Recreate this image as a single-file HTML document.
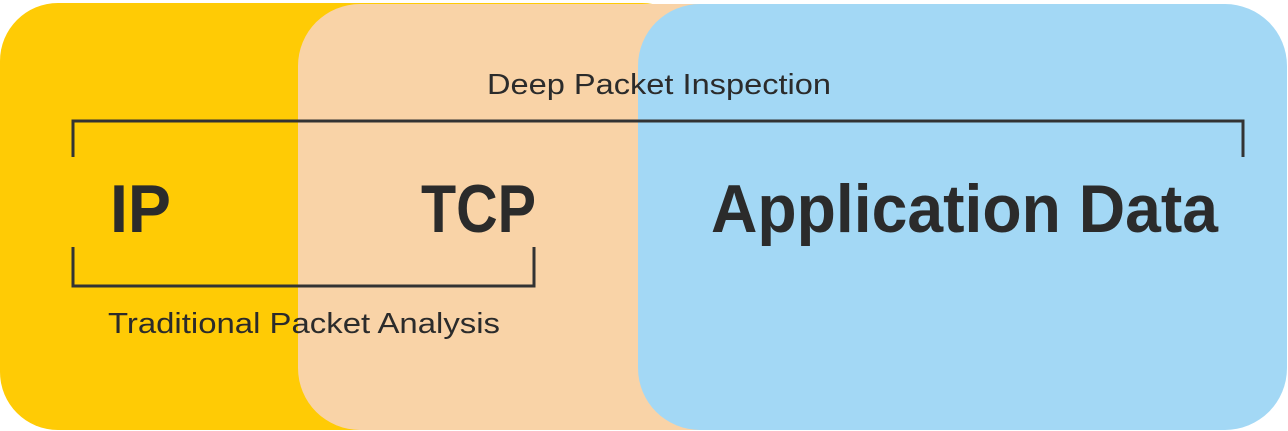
<!DOCTYPE html>
<html><head><style>html,body{margin:0;padding:0;background:#fff}svg{display:block}</style></head>
<body>
<svg width="1288" height="431" viewBox="0 0 1288 431" xmlns="http://www.w3.org/2000/svg">
<rect x="0" y="3" width="700" height="427" rx="58" fill="#FFCB05"/>
<rect x="298" y="4" width="700" height="426" rx="62" fill="#F9D3A7"/>
<rect x="638" y="4" width="649" height="426" rx="62" fill="#A3D8F5"/>
<g fill="none" stroke="#333" stroke-width="3">
<polyline points="73,157 73,121 1243,121 1243,157"/>
<polyline points="73,247 73,286 534,286 534,247"/>
</g>
<g font-family="Liberation Sans, sans-serif" fill="#2b2b2b">
<text x="487" y="94" font-size="29" textLength="344" lengthAdjust="spacingAndGlyphs">Deep Packet Inspection</text>
<text x="108" y="333" font-size="29" textLength="392" lengthAdjust="spacingAndGlyphs">Traditional Packet Analysis</text>
<g font-weight="bold" font-size="68">
<text x="110" y="232" textLength="61" lengthAdjust="spacingAndGlyphs">IP</text>
<text x="421" y="232" textLength="115" lengthAdjust="spacingAndGlyphs">TCP</text>
<text x="711" y="232" textLength="507" lengthAdjust="spacingAndGlyphs">Application Data</text>
</g>
</g>
</svg>
</body></html>
